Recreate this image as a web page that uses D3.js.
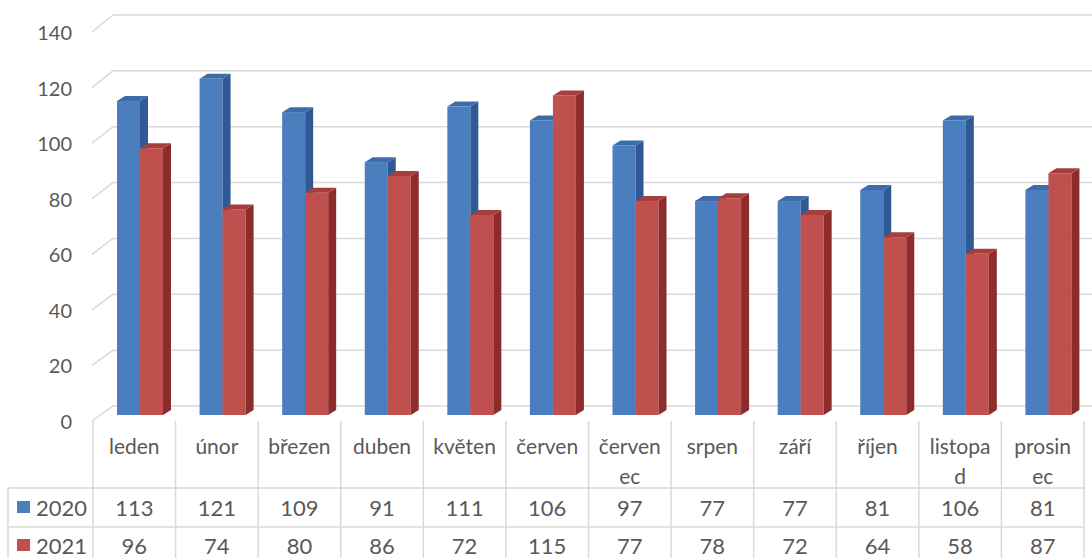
<!DOCTYPE html>
<html>
<head>
<meta charset="utf-8">
<script src="https://cdn.jsdelivr.net/npm/d3@7"></script>
<style>
  html, body { margin: 0; padding: 0; background: #fff; }
  svg { display: block; }
  text { font-family: Lato, "Open Sans", sans-serif; fill: #595959; }
</style>
</head>
<body>
<svg id="chart" width="1092" height="558"></svg>
<script>
// ---- data ----
const categories = ["leden", "únor", "březen", "duben", "květen", "červen", "červen\nec", "srpen", "září", "říjen", "listopa\nd", "prosin\nec"];
const seriesNames = ["2020", "2021"];
const values2020 = [113, 121, 109, 91, 111, 106, 97, 77, 77, 81, 106, 81];
const values2021 = [96, 74, 80, 86, 72, 115, 77, 78, 72, 64, 58, 87];
const yTicks = [0, 20, 40, 60, 80, 100, 120, 140];

// ---- layout ----
const W = 1092, H = 558;
const svg = d3.select("#chart");
const grid = "#d9d9d9";
const colors = {
  "2020": { front: "#4a7ebf", side: "#2f5a95", top: "#3d6cad" },
  "2021": { front: "#c0504d", side: "#8c2d2b", top: "#a63f3c" }
};
const depthX = 8, depthY = -5;

const x = d3.scaleBand().domain(categories).range([93, 1084]).padding(0);
const yBack = d3.scaleLinear().domain([0, 140]).range([406, 15]);
const yFrontEdge = d3.scaleLinear().domain([0, 140]).range([421, 32]);
const yBar = d3.scaleLinear().domain([0, 140]).range([415, 26]);

// gridlines (back wall + left side diagonal)
const gG = svg.append("g");
yTicks.forEach(t => {
  gG.append("path")
    .attr("d", `M92,${yFrontEdge(t)} L113,${yBack(t)} L${W},${yBack(t)}`)
    .attr("fill", "none").attr("stroke", grid).attr("stroke-width", 1.5);
});

// y tick labels
svg.append("g").selectAll("text").data(yTicks).join("text")
  .attr("x", 72).attr("y", d => yFrontEdge(d))
  .attr("text-anchor", "end").attr("dominant-baseline", "central")
  .style("font-size", "20px")
  .text(d => d);

// bars
const barW = 23, barOff = 24;
const seriesData = [values2020, values2021];
const gB = svg.append("g");
categories.forEach((c, i) => {
  seriesData.forEach((vals, s) => {
    const col = colors[seriesNames[s]];
    const x0 = x(c) + barOff + s * barW;
    const x1 = x0 + barW;
    const yt = yBar(vals[i]);
    const yb = yBar(0);
    const g = gB.append("g");
    // front
    g.append("rect").attr("x", x0).attr("y", yt).attr("width", barW).attr("height", yb - yt)
      .attr("fill", col.front);
    // side
    g.append("path")
      .attr("d", `M${x1},${yt} L${x1 + depthX},${yt + depthY} L${x1 + depthX},${yb + depthY} L${x1},${yb} Z`)
      .attr("fill", col.side);
    // top
    g.append("path")
      .attr("d", `M${x0},${yt} L${x0 + depthX},${yt + depthY} L${x1 + depthX},${yt + depthY} L${x1},${yt} Z`)
      .attr("fill", col.top);
  });
});

// data table
const gT = svg.append("g");
const tLeft = 8, tRight = 1084, rowTop = 488, rowMid = 527;
const bounds = categories.map(c => x(c)).concat([x.range()[1]]);
bounds.forEach(b => {
  gT.append("line").attr("x1", b).attr("x2", b).attr("y1", 421).attr("y2", H)
    .attr("stroke", grid).attr("stroke-width", 1.5);
});
gT.append("line").attr("x1", tLeft).attr("x2", tLeft).attr("y1", rowTop).attr("y2", H)
  .attr("stroke", grid).attr("stroke-width", 1.5);
[rowTop, rowMid].forEach(yy => {
  gT.append("line").attr("x1", tLeft).attr("x2", tRight).attr("y1", yy).attr("y2", yy)
    .attr("stroke", grid).attr("stroke-width", 1.5);
});

// category header
categories.forEach(c => {
  const lines = c.split("\n");
  lines.forEach((ln, k) => {
    gT.append("text")
      .attr("x", x(c) + x.bandwidth() / 2).attr("y", 445 + k * 30)
      .attr("text-anchor", "middle").attr("dominant-baseline", "central")
      .style("font-size", "21px")
      .text(ln);
  });
});

// value rows + legend keys
const rowY = [507, 545];
seriesData.forEach((vals, s) => {
  const col = colors[seriesNames[s]];
  gT.append("rect").attr("x", 17).attr("y", rowY[s] - 6).attr("width", 13).attr("height", 12)
    .attr("fill", col.front);
  gT.append("text").attr("x", 36).attr("y", rowY[s])
    .attr("dominant-baseline", "central").style("font-size", "22px")
    .text(seriesNames[s]);
  categories.forEach((c, i) => {
    gT.append("text")
      .attr("x", x(c) + x.bandwidth() / 2).attr("y", rowY[s])
      .attr("text-anchor", "middle").attr("dominant-baseline", "central")
      .style("font-size", "22px")
      .text(vals[i]);
  });
});
</script>
</body>
</html>
